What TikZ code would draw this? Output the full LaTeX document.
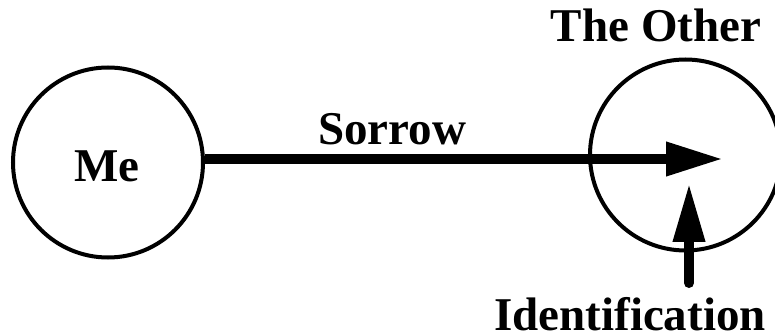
\documentclass[tikz,border=0pt]{standalone}
\usepackage{fontspec}
\setmainfont{Liberation Serif}
\usetikzlibrary{arrows.meta}
\begin{document}
\begin{tikzpicture}[x=1pt,y=-1pt,
  ring/.style={draw=black,line width=4pt,circle,inner sep=0pt},
  lbl/.style={font=\fontsize{47}{50}\selectfont\bfseries,inner sep=0pt,anchor=base},
  bigarrow/.style={draw=black,line width=10pt,-{Triangle[length=57pt,width=32pt]}},
  uparrow/.style={draw=black,line width=10pt,line cap=round,-{Triangle[length=59pt,width=30pt]}}]
\useasboundingbox (0,0) rectangle (775,336);
\node[ring,minimum size=190pt] (me) at (108,162.5) {};
\node[lbl] (metext) at (107,182) {Me};
\node[ring,minimum size=191pt] (other) at (685.5,155) {};
\node[lbl] (othertext) at (656,42) {The Other};
\node[lbl] (sorrow) at (392,145) {Sorrow};
\node[lbl] (ident) at (630,330) {Identification};
\coordinate (tip) at (723,159);
\coordinate (utip) at (689,183);
\coordinate (ubase) at (689,283);
\draw[bigarrow] (me.east |- tip) -- (tip);
\draw[uparrow] (ubase) -- (utip);
\end{tikzpicture}
\end{document}
